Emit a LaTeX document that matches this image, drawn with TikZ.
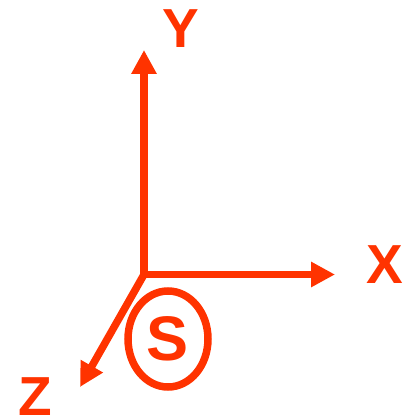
\documentclass[tikz,border=0pt]{standalone}
\usepackage{fontspec}
\setmainfont{Liberation Sans}
\usepackage{xcolor}
\usetikzlibrary{arrows.meta,positioning,shapes.geometric}
\definecolor{axisred}{RGB}{255,51,0}

\begin{document}
\begin{tikzpicture}[
  x=1pt, y=-1pt,
  axis/.style={axisred, line width=7.5pt,
    -{Triangle[length=24pt, width=24pt]}},
  axlabel/.style={text=axisred, font=\bfseries\fontsize{55}{60}\selectfont,
    inner sep=0pt},
  spin/.style={draw=axisred, ellipse, line width=7.5pt, inner sep=0pt,
    minimum width=80pt, minimum height=96pt, text=axisred,
    font=\bfseries\fontsize{63}{66}\selectfont},
]
\useasboundingbox (0,0) rectangle (409,419);
\coordinate (orig) at (144,274.5);
\coordinate (ytip) at (144,50);
\coordinate (xtip) at (335,274.5);
\coordinate (ztip) at (80,387);
% axes
\draw[axis, {Triangle[length=24pt, width=24pt]}-{Triangle[length=24pt, width=24pt]}, line join=miter]
  (ytip) -- (orig) -- (xtip);
\draw[axis] (orig) -- (ztip);
\node[axlabel] (ylab) at (181,29) {Y};
\node[axlabel] (xlab) at (385,265) {X};
\node[axlabel] (zlab) at (35,396.5) {Z};
% spin
\node[spin] (s) at (168,339) {S};
\end{tikzpicture}
\end{document}
